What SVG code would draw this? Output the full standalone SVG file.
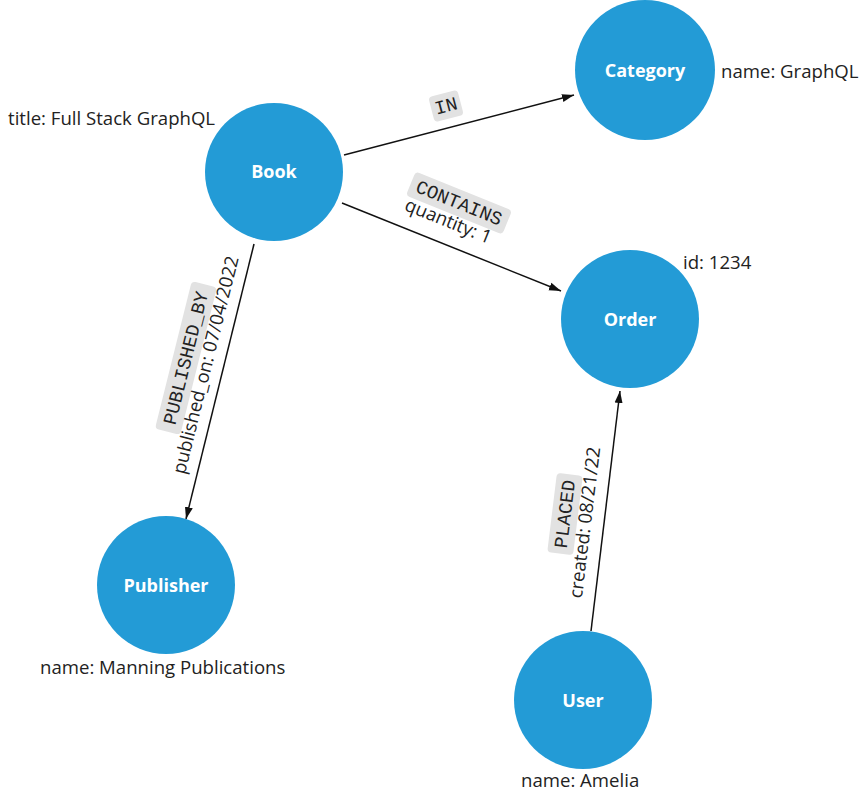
<svg xmlns="http://www.w3.org/2000/svg" width="860" height="793" viewBox="0 0 860 793">
<style>
.node{fill:#239bd6}
.nl{font-family:"Open Sans","Noto Sans",sans-serif;font-weight:bold;font-size:18px;fill:#fff;text-anchor:middle}
.prop{font-family:"Open Sans","Noto Sans",sans-serif;font-size:18.6px;fill:#222}
.edge{stroke:#111;stroke-width:1.5;fill:none;marker-end:url(#arr)}
.rel{font-family:"Liberation Mono","DejaVu Sans Mono",monospace;font-size:19px;fill:#222;text-anchor:middle}
.rp{font-family:"Open Sans","Noto Sans",sans-serif;font-size:18.5px;fill:#222;text-anchor:middle}
.bg{fill:#e2e2e2}
</style>
<defs>
<marker id="arr" viewBox="0 0 12 10" refX="12" refY="5" markerWidth="12" markerHeight="10" markerUnits="userSpaceOnUse" orient="auto">
<path d="M0,1 L12,5 L0,9 Z" fill="#111"/>
</marker>
</defs>
<rect width="860" height="793" fill="#fff"/>
<g id="connectors">
<g id="e-in">
<line class="edge" x1="344" y1="155" x2="574" y2="95"/>
<g transform="translate(446,106) rotate(-14.7)">
<rect class="bg" x="-15" y="-13" width="30" height="26" rx="4"/>
<text class="rel" x="0" y="6">IN</text>
</g>
</g>
<g id="e-contains">
<line class="edge" x1="342" y1="203" x2="561" y2="291"/>
<g transform="translate(459,203) rotate(22)">
<rect class="bg" x="-52" y="-13" width="104" height="26" rx="4"/>
<text class="rel" x="0" y="6">CONTAINS</text>
<text class="rp" x="-3" y="27">quantity: 1</text>
</g>
</g>
<g id="e-published">
<line class="edge" x1="254" y1="244" x2="186" y2="519"/>
<g transform="translate(186,358) rotate(-76)">
<rect class="bg" x="-76" y="-13" width="152" height="26" rx="4"/>
<text class="rel" x="0" y="6">PUBLISHED_BY</text>
<text class="rp" x="-2" y="27">published_on: 07/04/2022</text>
</g>
</g>
<g id="e-placed">
<line class="edge" x1="591" y1="631" x2="620" y2="391"/>
<g transform="translate(565,514) rotate(-83)">
<rect class="bg" x="-40" y="-13" width="80" height="26" rx="4"/>
<text class="rel" x="0" y="6">PLACED</text>
<text class="rp" x="-6" y="27">created: 08/21/22</text>
</g>
</g>
</g>
<g id="book">
<circle class="node" cx="274" cy="172" r="69"/>
<text class="nl" x="274" y="178">Book</text>
<text class="prop" x="8" y="125">title: Full Stack GraphQL</text>
</g>
<g id="category">
<circle class="node" cx="645" cy="70" r="70"/>
<text class="nl" x="645" y="77">Category</text>
<text class="prop" x="721" y="78">name: GraphQL</text>
</g>
<g id="order">
<circle class="node" cx="630" cy="319" r="69"/>
<text class="nl" x="630" y="326">Order</text>
<text class="prop" x="683" y="269">id: 1234</text>
</g>
<g id="publisher">
<circle class="node" cx="166" cy="585" r="69"/>
<text class="nl" x="166" y="592">Publisher</text>
<text class="prop" x="40" y="674">name: Manning Publications</text>
</g>
<g id="user">
<circle class="node" cx="583" cy="700" r="69"/>
<text class="nl" x="583" y="707">User</text>
<text class="prop" x="521" y="787">name: Amelia</text>
</g>
</svg>
